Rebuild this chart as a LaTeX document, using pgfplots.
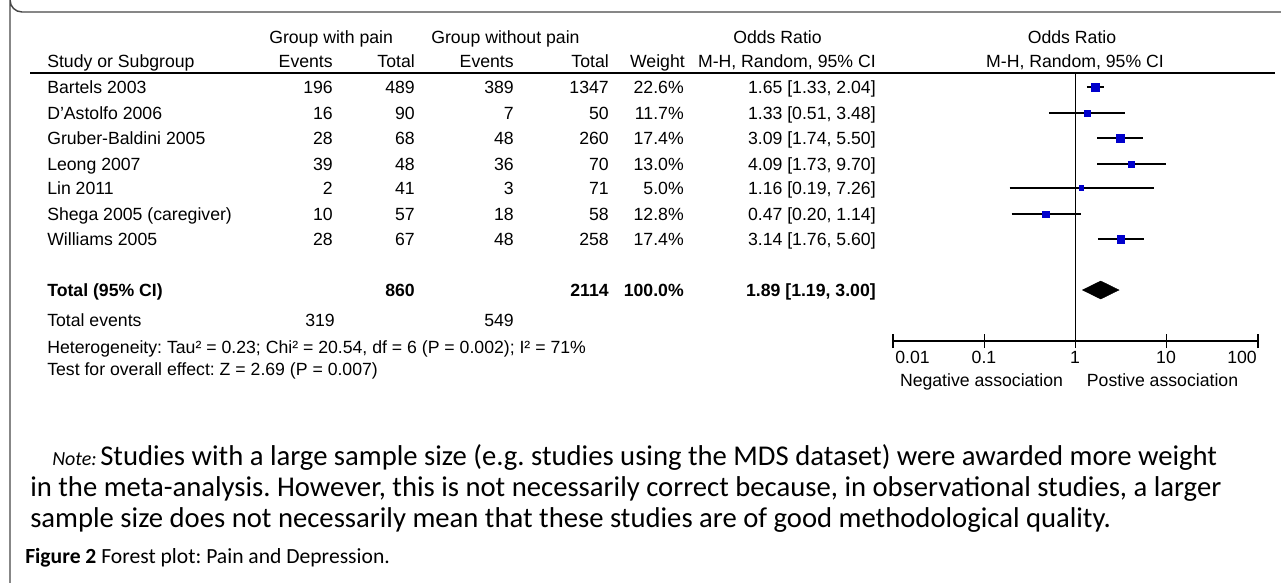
\documentclass[border=0pt]{standalone}
\usepackage{fontspec}
\setmainfont{Liberation Sans}
\newfontfamily\carlito{Carlito}
\usepackage{pgfplots}
\pgfplotsset{compat=1.18}
\definecolor{sqblue}{RGB}{0,0,204}
\definecolor{framegray}{RGB}{70,70,70}
\frenchspacing

\pgfplotstableread{
y    or    ms
-87  1.65  3.0
-113 1.33  2.25
-138 3.09  2.9
-164 4.09  2.4
-188 1.16  1.75
-214 0.47  2.4
-239 3.14  2.9
}\studies

\pgfplotstableread{
x    y
1.33 -87
2.04 -87
nan  nan
0.51 -113
3.48 -113
nan  nan
1.74 -138
5.50 -138
nan  nan
1.73 -164
9.70 -164
nan  nan
0.19 -188
7.26 -188
nan  nan
0.20 -214
1.14 -214
nan  nan
1.76 -239
5.60 -239
}\cis

\begin{document}
\begin{tikzpicture}
\useasboundingbox (0,0) rectangle (960.75pt,-436.5pt);
\begin{scope}[x=0.75pt,y=-0.75pt]
\begin{scope}
\clip (0,0) rectangle (1281,582);
\draw[line width=1.1pt, framegray] (1300,12) -- (22,12) arc[start angle=90,end angle=180,radius=12] -- (10,600);
\end{scope}
\draw[line width=0.9pt] (30,73) -- (1275,73);
\def\tf{\fontsize{13.25}{15}\selectfont}
% header row 1
\node[anchor=base west, inner sep=0] at (269,43) {\tf Group with pain};
\node[anchor=base west, inner sep=0] at (431,43) {\tf Group without pain};
\node[anchor=base, inner sep=0] at (777.5,43) {\tf Odds Ratio};
\node[anchor=base, inner sep=0] at (1072,43) {\tf Odds Ratio};
% header row 2
\node[anchor=base west, inner sep=0] at (47,67) {\tf Study or Subgroup};
\node[anchor=base east, inner sep=0] at (333,67) {\tf Events};
\node[anchor=base east, inner sep=0] at (415,67) {\tf Total};
\node[anchor=base east, inner sep=0] at (514,67) {\tf Events};
\node[anchor=base east, inner sep=0] at (609,67) {\tf Total};
\node[anchor=base east, inner sep=0] at (685,67) {\tf Weight};
\node[anchor=base east, inner sep=0] at (876,67) {\tf M-H, Random, 95\% CI};
\node[anchor=base, inner sep=0] at (1075,67) {\tf M-H, Random, 95\% CI};
% data rows
\foreach \yy/\name/\ea/\ta/\eb/\tb/\w/\orci in {
  93/Bartels 2003/196/489/389/1347/22.6\%/{1.65 [1.33, 2.04]},
  119/D'Astolfo 2006/16/90/7/50/11.7\%/{1.33 [0.51, 3.48]},
  144/Gruber-Baldini 2005/28/68/48/260/17.4\%/{3.09 [1.74, 5.50]},
  170/Leong 2007/39/48/36/70/13.0\%/{4.09 [1.73, 9.70]},
  194/Lin 2011/2/41/3/71/5.0\%/{1.16 [0.19, 7.26]},
  220/Shega 2005 (caregiver)/10/57/18/58/12.8\%/{0.47 [0.20, 1.14]},
  245/Williams 2005/28/67/48/258/17.4\%/{3.14 [1.76, 5.60]}}{
  \node[anchor=base west, inner sep=0] at (47,\yy) {\tf \name};
  \node[anchor=base east, inner sep=0] at (333,\yy) {\tf \ea};
  \node[anchor=base east, inner sep=0] at (415,\yy) {\tf \ta};
  \node[anchor=base east, inner sep=0] at (514,\yy) {\tf \eb};
  \node[anchor=base east, inner sep=0] at (609,\yy) {\tf \tb};
  \node[anchor=base east, inner sep=0] at (684,\yy) {\tf \w};
  \node[anchor=base east, inner sep=0] at (876,\yy) {\tf \orci};
}
% total row
\node[anchor=base west, inner sep=0] at (47,296) {\tf\bfseries Total (95\% CI)};
\node[anchor=base east, inner sep=0] at (415,296) {\tf\bfseries 860};
\node[anchor=base east, inner sep=0] at (609,296) {\tf\bfseries 2114};
\node[anchor=base east, inner sep=0] at (684,296) {\tf\bfseries 100.0\%};
\node[anchor=base east, inner sep=0] at (876,296) {\tf\bfseries 1.89 [1.19, 3.00]};
\node[anchor=base west, inner sep=0] at (47,326) {\tf Total events};
\node[anchor=base east, inner sep=0] at (335,326) {\tf 319};
\node[anchor=base east, inner sep=0] at (514,326) {\tf 549};
\node[anchor=base west, inner sep=0] at (47,353) {\tf Heterogeneity: Tau² = 0.23; Chi² = 20.54, df = 6 (P = 0.002); I² = 71\%};
\node[anchor=base west, inner sep=0] at (47,375) {\tf Test for overall effect: Z = 2.69 (P = 0.007)};
% axis labels
\node[anchor=base west, inner sep=0] at (895,363) {\tf 0.01};
\node[anchor=base, inner sep=0] at (984,363) {\tf 0.1};
\node[anchor=base, inner sep=0] at (1075,363) {\tf 1};
\node[anchor=base, inner sep=0] at (1166,363) {\tf 10};
\node[anchor=base east, inner sep=0] at (1257,363) {\tf 100};
\node[anchor=base, inner sep=0] at (981.5,386) {\tf Negative association};
\node[anchor=base, inner sep=0] at (1162.5,386) {\tf Postive association};
% note
\node[anchor=base west, inner sep=0] at (52,465) {\carlito\fontsize{15}{18}\selectfont\itshape Note:};
\node[anchor=base west, inner sep=0] at (100,465) {\carlito\fontsize{21.5}{25}\selectfont Studies with a large sample size (e.g. studies using the MDS dataset) were awarded more weight};
\node[anchor=base west, inner sep=0] at (30,496) {\carlito\fontsize{21.5}{25}\selectfont in the meta-analysis. However, this is not necessarily correct because, in observational studies, a larger};
\node[anchor=base west, inner sep=0] at (30,527) {\carlito\fontsize{21.5}{25}\selectfont sample size does not necessarily mean that these studies are of good methodological quality.};
\node[anchor=base west, inner sep=0] at (25,563) {\carlito\fontsize{16.2}{19}\selectfont\textbf{Figure 2} Forest plot: Pain and Depression.};
\end{scope}

\begin{axis}[
  at={(669.75pt,-255.75pt)}, anchor=south west,
  scale only axis, width=273.75pt, height=201pt,
  xmode=log, xmin=0.01, xmax=100, ymin=-341, ymax=-73,
  axis x line=bottom, axis y line=none,
  x axis line style={-, line width=1pt},
  xtick={0.01,0.1,1,10,100}, xminorticks=false, xticklabels={,,},
  tick align=center, major tick length=10.5pt,
  xtick style={black, line width=1pt},
  clip=false,
]
\addplot[black, line width=0.75pt] coordinates {(1,-73) (1,-341)};
\addplot[black, line width=0.9pt, unbounded coords=jump] table[x=x,y=y] {\cis};
\addplot[scatter, only marks, mark=square*,
  scatter/use mapped color={draw=sqblue, fill=sqblue},
  visualization depends on={\thisrow{ms} \as \ms},
  scatter/@pre marker code/.append style={/tikz/mark size=\ms, /tikz/line width=0.2pt},
] table[x=or, y=y] {\studies};
\addplot[fill=black, draw=black, line width=0.3pt] coordinates {(1.19,-290) (1.89,-281) (3.00,-290) (1.89,-299) (1.19,-290)};
\end{axis}
\end{tikzpicture}
\end{document}
